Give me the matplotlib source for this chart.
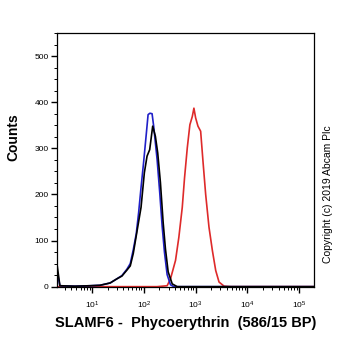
import numpy as np
import matplotlib.pyplot as plt
from matplotlib.ticker import MultipleLocator, LogLocator, NullFormatter

plt.rcParams['font.family'] = ['Liberation Sans', 'DejaVu Sans']

# --- Daten (log10 Intensität, Counts) ---
blue_log = [0.330, 0.379, 0.670, 0.961, 1.155, 1.350, 1.480, 1.577, 1.674, 1.738, 1.796, 1.854,
            1.899, 1.946, 1.996, 2.049, 2.082, 2.117, 2.159, 2.190, 2.256, 2.307, 2.353, 2.398,
            2.450, 2.515, 2.579, 3.5, 5.3]
blue_cnt = [30, 2, 1, 2, 3, 8, 17, 24, 38, 50, 80, 115,
            160, 215, 270, 333, 373, 376, 375, 348, 276, 204, 132, 75,
            26, 4, 0, 0, 0]

black_log = [0.330, 0.379, 0.670, 0.961, 1.155, 1.350, 1.480, 1.577, 1.674, 1.738, 1.796, 1.868,
             1.946, 2.010, 2.062, 2.113, 2.171, 2.223, 2.268, 2.320, 2.373, 2.417, 2.470,
             2.548, 2.645, 3.5, 5.3]
black_cnt = [43, 2, 1, 2, 3, 8, 17, 23, 36, 45, 72, 120,
             172, 247, 283, 297, 348, 326, 290, 226, 139, 82, 32,
             6, 0, 0, 0]

red_log = [0.330, 2.256, 2.450, 2.515, 2.612, 2.676, 2.742, 2.786, 2.839, 2.889, 2.936, 2.967,
           3.000, 3.045, 3.097, 3.142, 3.194, 3.258, 3.324, 3.388, 3.452, 3.550, 3.680, 5.3]
red_cnt = [0, 0, 2, 17, 57, 107, 172, 236, 301, 351, 369, 387,
           366, 348, 337, 272, 200, 129, 78, 35, 10, 1, 0, 0]

fig = plt.figure(figsize=(3.62, 3.51), dpi=100)
ax = fig.add_axes([0.157, 0.182, 0.711, 0.724])

ax.plot(10 ** np.array(red_log), red_cnt, color='#de2a2a', lw=1.2)
ax.plot(10 ** np.array(blue_log), blue_cnt, color='#2020c8', lw=1.2)
ax.plot(10 ** np.array(black_log), black_cnt, color='black', lw=1.2)

ax.set_xscale('log')
ax.set_xlim(10 ** 0.32, 10 ** 5.29)
ax.set_ylim(-1, 550)

ax.yaxis.set_major_locator(MultipleLocator(100))
ax.yaxis.set_minor_locator(MultipleLocator(25))
ax.xaxis.set_major_locator(LogLocator(base=10, numticks=10))
ax.xaxis.set_minor_locator(LogLocator(base=10, subs=np.arange(2, 10), numticks=10))
ax.xaxis.set_minor_formatter(NullFormatter())

ax.tick_params(axis='both', which='major', length=4, width=1, labelsize=6, direction='out')
ax.tick_params(axis='both', which='minor', length=2, width=0.7, direction='out')
ax.tick_params(axis='x', which='major', pad=5)
ax.tick_params(axis='y', which='major', pad=2)

for s in ax.spines.values():
    s.set_linewidth(0.9)

ax.set_ylabel('Counts', fontsize=10, fontweight='bold')
ax.yaxis.set_label_coords(-0.14, 0.59)
ax.set_xlabel('SLAMF6 -  Phycoerythrin  (586/15 BP)', fontsize=10.5, fontweight='bold', labelpad=4)

fig.text(0.906, 0.447, 'Copyright (c) 2019 Abcam Plc', rotation=90, fontsize=7.5,
         ha='center', va='center')

fig.savefig('out.png', dpi=100)
